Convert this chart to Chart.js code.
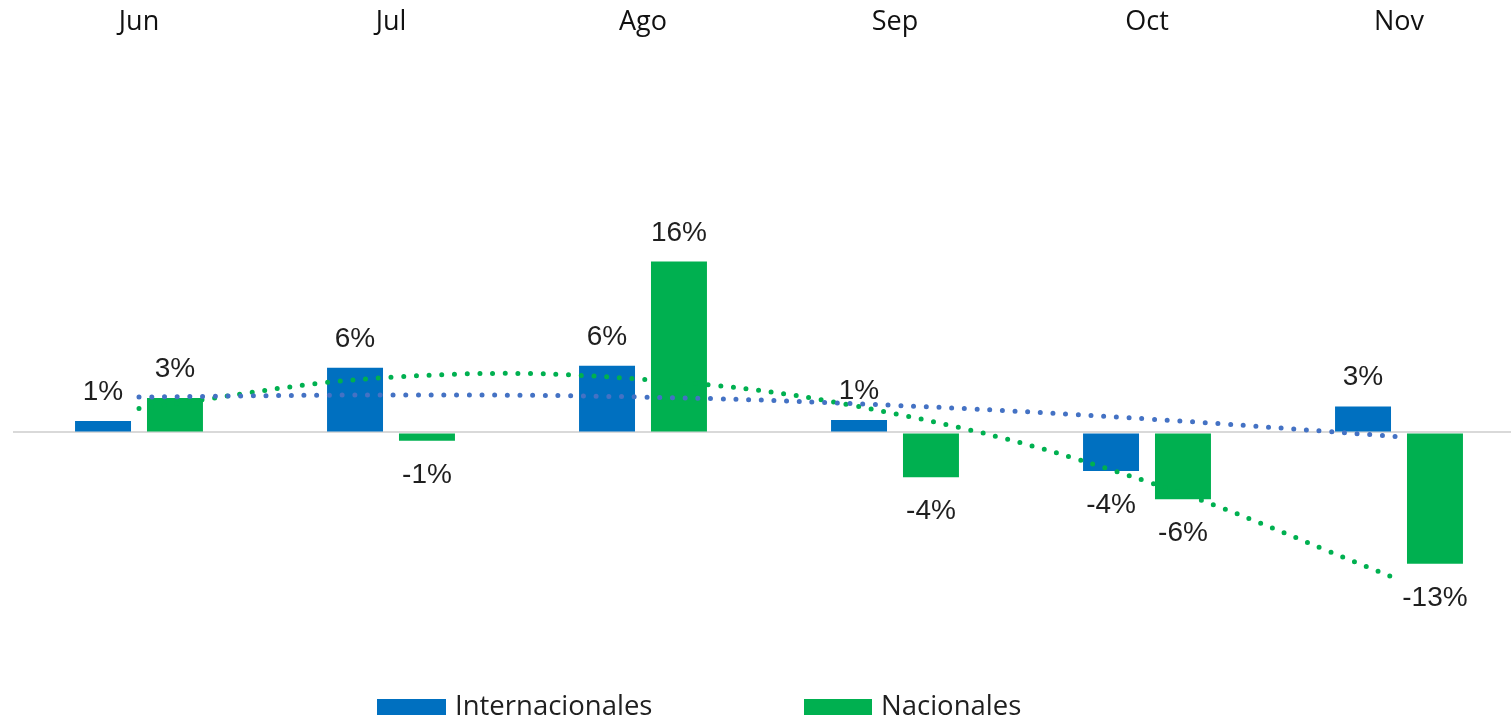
<!DOCTYPE html>
<html>
<head>
<meta charset="utf-8">
<script src="https://cdn.jsdelivr.net/npm/chart.js@4.4.1/dist/chart.umd.min.js"></script>
<style>
    html, body { margin: 0; padding: 0; background: #fff; overflow: hidden; }
    #wrap { width: 1511px; height: 721px; overflow: hidden; }
    #canvas { display: block; }
</style>
</head>
<body>
<div id="wrap"><canvas id="canvas" width="1540" height="721"></canvas></div>
<script>
var meses = ['Jun', 'Jul', 'Ago', 'Sep', 'Oct', 'Nov'];
var internacionales = [1.1, 6.2, 6.4, 1.2, -3.7, 2.5];
var nacionales = [3.3, -0.8, 16.4, -4.3, -6.4, -12.6];
// lineas de tendencia
var tendInternacionales = [3.4, 3.6, 3.4, 2.6, 1.3, -0.4];
var tendNacionales = [2.3, 5.3, 5.1, 1.8, -4.7, -14.1];

var azul = '#0070C0';
var verde = '#00B050';
var azulTend = '#4472C4';

// etiquetas de valor en el extremo de cada barra
var etiquetas = {
    id: 'etiquetas',
    afterDatasetsDraw: function (chart) {
        var ctx = chart.ctx;
        ctx.save();
        ctx.font = '28px "Liberation Sans", Arial, sans-serif';
        ctx.fillStyle = '#1f1f1f';
        ctx.textAlign = 'center';
        ctx.textBaseline = 'alphabetic';
        chart.data.datasets.forEach(function (ds, i) {
            if (ds.type !== 'bar') return;
            var meta = chart.getDatasetMeta(i);
            meta.data.forEach(function (el, j) {
                var v = ds.data[j];
                var txt = Math.round(v) + '%';
                if (v >= 0) {
                    ctx.fillText(txt, el.x, el.y - 21);
                } else {
                    ctx.fillText(txt, el.x, el.y + 42);
                }
            });
        });
        ctx.restore();
    }
};

// leyenda abajo
var leyenda = {
    id: 'leyenda',
    afterDraw: function (chart) {
        var ctx = chart.ctx;
        var items = [
            { text: 'Internacionales', color: azul, x: 377, w: 69 },
            { text: 'Nacionales', color: verde, x: 804, w: 68 }
        ];
        ctx.save();
        ctx.font = '27.5px "Open Sans", sans-serif';
        ctx.textAlign = 'left';
        ctx.textBaseline = 'alphabetic';
        items.forEach(function (it) {
            ctx.fillStyle = it.color;
            ctx.fillRect(it.x, 699, it.w, 16);
            ctx.fillStyle = '#1f1f1f';
            ctx.fillText(it.text, it.x + it.w + 9, 715);
        });
        ctx.restore();
    }
};

var ctx = canvas.getContext('2d');
var config = {
    data: {
        labels: meses,
        datasets: [{
            type: 'line',
            label: 'Tendencia Internacionales',
            data: tendInternacionales,
            borderColor: azulTend,
            borderWidth: 5,
            borderDash: [0, 12.7],
            borderCapStyle: 'round',
            pointRadius: 0,
            tension: 0.4,
            fill: false,
            order: 0
        }, {
            type: 'line',
            label: 'Tendencia Nacionales',
            data: tendNacionales,
            borderColor: verde,
            borderWidth: 5,
            borderDash: [0, 12.7],
            borderCapStyle: 'round',
            pointRadius: 0,
            tension: 0.4,
            fill: false,
            order: 0
        }, {
            type: 'bar',
            label: 'Internacionales',
            data: internacionales,
            backgroundColor: azul,
            barPercentage: 0.778,
            categoryPercentage: 0.571,
            order: 1
        }, {
            type: 'bar',
            label: 'Nacionales',
            data: nacionales,
            backgroundColor: verde,
            barPercentage: 0.778,
            categoryPercentage: 0.571,
            order: 1
        }]
    },
    options: {
        responsive: false,
        animation: false,
        devicePixelRatio: 1,
        layout: { padding: { top: 6, left: 13, right: 15, bottom: 80 } },
        plugins: {
            legend: { display: false },
            tooltip: { enabled: false }
        },
        scales: {
            x: {
                position: 'top',
                grid: { display: false, drawTicks: false },
                border: { display: false },
                ticks: {
                    padding: 0,
                    color: '#111',
                    font: { family: '"Open Sans", sans-serif', size: 27 }
                }
            },
            y: {
                min: -20,
                max: 37.8,
                ticks: { display: false, stepSize: 10 },
                border: { display: false },
                grid: {
                    drawTicks: false,
                    lineWidth: 2,
                    color: function (c) {
                        return c.tick && c.tick.value === 0 ? '#d9d9d9' : 'rgba(0,0,0,0)';
                    }
                }
            }
        }
    },
    plugins: [etiquetas, leyenda]
};

var chart = new Chart(ctx, config);
</script>
</body>
</html>
